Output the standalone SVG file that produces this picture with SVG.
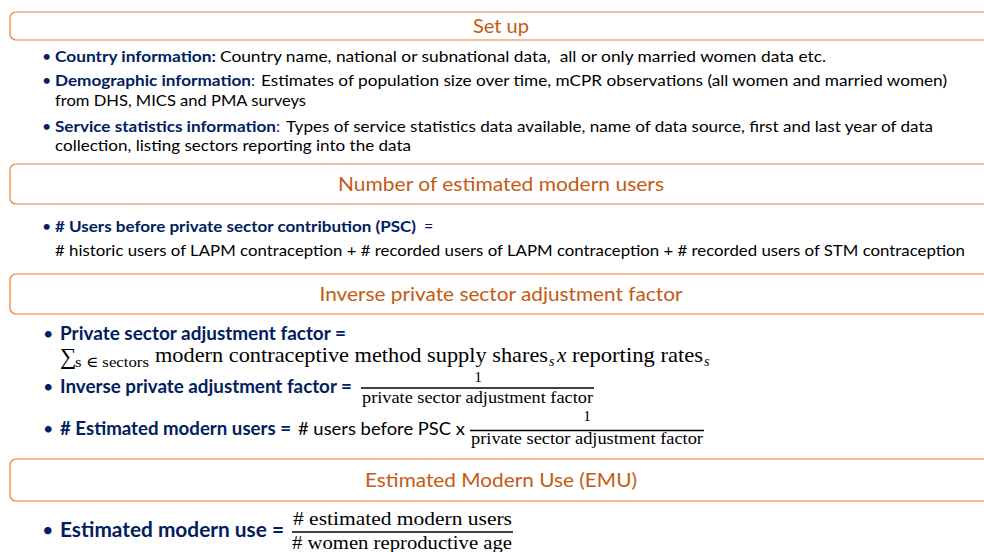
<svg xmlns="http://www.w3.org/2000/svg" width="984" height="552" viewBox="0 0 984 552">
<style>
.box{fill:#fff;stroke:#ED7D31;stroke-width:1.2}
.title{font-family:Lato,"Open Sans","Liberation Sans",sans-serif;font-size:20px;fill:#C55A11;text-anchor:middle}
.s{font-family:Lato,"Open Sans","Liberation Sans",sans-serif;font-size:16px}
.l{font-family:Lato,"Open Sans","Liberation Sans",sans-serif;font-size:18px}
.xl{font-family:Lato,"Open Sans","Liberation Sans",sans-serif;font-size:20px}
.b{font-weight:bold;fill:#002060}
.nv{fill:#002060}
.n{fill:#000}
.m{font-family:"Liberation Serif","DejaVu Serif",serif;fill:#000}
.i{font-style:italic}
.fr{stroke:#000;stroke-width:1.5}
</style>
<rect width="984" height="552" fill="#fff"/>

<g id="setup">
<rect class="box" x="10" y="12" width="990" height="28" rx="6"/>
<text class="title" x="501" y="32.5" textLength="56" lengthAdjust="spacingAndGlyphs">Set up</text>
<text class="s nv" x="42" y="62">•</text>
<text class="s b" x="55" y="62" textLength="161" lengthAdjust="spacingAndGlyphs">Country information:</text>
<text class="s n" x="220" y="62" textLength="606" lengthAdjust="spacingAndGlyphs" xml:space="preserve">Country name, national or subnational data,  all or only married women data etc.</text>
<text class="s nv" x="42" y="86">•</text>
<text class="s b" x="55" y="86" textLength="196" lengthAdjust="spacingAndGlyphs">Demographic information</text>
<text class="s nv" x="251" y="86">:</text>
<text class="s n" x="261" y="86" textLength="686" lengthAdjust="spacingAndGlyphs">Estimates of population size over time, mCPR observations (all women and married women)</text>
<text class="s n" x="55" y="106" textLength="251" lengthAdjust="spacingAndGlyphs">from DHS, MICS and PMA surveys</text>
<text class="s nv" x="42" y="132">•</text>
<text class="s b" x="55" y="132" textLength="221" lengthAdjust="spacingAndGlyphs">Service statistics information</text>
<text class="s nv" x="276" y="132">:</text>
<text class="s n" x="286" y="132" textLength="647" lengthAdjust="spacingAndGlyphs">Types of service statistics data available, name of data source, first and last year of data</text>
<text class="s n" x="55" y="151" textLength="356" lengthAdjust="spacingAndGlyphs">collection, listing sectors reporting into the data</text>
</g>

<g id="users">
<rect class="box" x="10" y="164" width="990" height="40" rx="6"/>
<text class="title" x="501" y="191" textLength="326" lengthAdjust="spacingAndGlyphs">Number of estimated modern users</text>
<text class="s nv" x="42" y="232">•</text>
<text class="s b" x="55" y="232" textLength="361" lengthAdjust="spacingAndGlyphs"># Users before private sector contribution (PSC)</text>
<text class="s nv" x="424" y="232">=</text>
<text class="s n" x="55" y="256" textLength="910" lengthAdjust="spacingAndGlyphs"># historic users of LAPM contraception + # recorded users of LAPM contraception + # recorded users of STM contraception</text>
</g>

<g id="inverse">
<rect class="box" x="10" y="274" width="990" height="40" rx="6"/>
<text class="title" x="501" y="301" textLength="363" lengthAdjust="spacingAndGlyphs">Inverse private sector adjustment factor</text>
<text class="l nv" x="43" y="340">•</text>
<text class="l b" x="60" y="340" textLength="286" lengthAdjust="spacingAndGlyphs">Private sector adjustment factor =</text>
<text class="m" x="60" y="364" font-size="23">∑</text>
<text class="m" x="75" y="367" font-size="15" textLength="74" lengthAdjust="spacingAndGlyphs">s ∈ sectors</text>
<text class="m" x="155" y="362" font-size="21" textLength="393" lengthAdjust="spacingAndGlyphs">modern contraceptive method supply shares</text>
<text class="m i" x="549" y="366" font-size="14">s</text>
<text class="m i" x="557" y="362" font-size="21">x</text>
<text class="m" x="572" y="362" font-size="21" textLength="131" lengthAdjust="spacingAndGlyphs">reporting rates</text>
<text class="m i" x="704" y="366" font-size="14">s</text>
<text class="l nv" x="43" y="393">•</text>
<text class="l b" x="60" y="393" textLength="292" lengthAdjust="spacingAndGlyphs">Inverse private adjustment factor =</text>
<text class="m" x="478" y="382" font-size="15.5" text-anchor="middle">1</text>
<line class="fr" x1="361" y1="388" x2="594" y2="388"/>
<text class="m" x="362" y="403" font-size="16.5" textLength="231" lengthAdjust="spacingAndGlyphs">private sector adjustment factor</text>
<text class="l nv" x="43" y="435">•</text>
<text class="l b" x="60" y="435" textLength="231" lengthAdjust="spacingAndGlyphs"># Estimated modern users =</text>
<text class="l n" x="298" y="435" textLength="167" lengthAdjust="spacingAndGlyphs"># users before PSC x</text>
<text class="m" x="587" y="421" font-size="15.5" text-anchor="middle">1</text>
<line class="fr" x1="470" y1="430.5" x2="704" y2="430.5"/>
<text class="m" x="471" y="444" font-size="16.5" textLength="232" lengthAdjust="spacingAndGlyphs">private sector adjustment factor</text>
</g>

<g id="emu">
<rect class="box" x="10" y="459" width="990" height="42" rx="6"/>
<text class="title" x="501" y="487" textLength="272" lengthAdjust="spacingAndGlyphs">Estimated Modern Use (EMU)</text>
<text class="xl nv" x="42" y="537">•</text>
<text class="xl b" x="60" y="537" textLength="224" lengthAdjust="spacingAndGlyphs">Estimated modern use =</text>
<text class="m" x="293" y="525" font-size="18.5" textLength="219" lengthAdjust="spacingAndGlyphs"># estimated modern users</text>
<line class="fr" x1="292" y1="532" x2="513" y2="532"/>
<text class="m" x="292" y="549" font-size="18.5" textLength="220" lengthAdjust="spacingAndGlyphs"># women reproductive age</text>
</g>
</svg>
